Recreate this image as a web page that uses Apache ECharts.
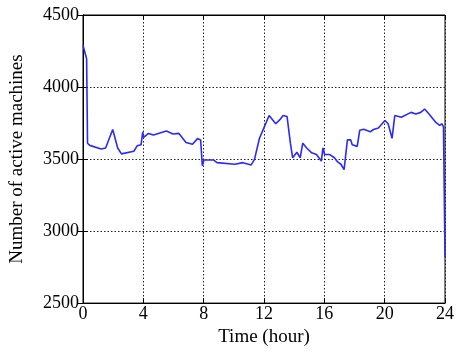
<!DOCTYPE html>
<html>
<head>
<meta charset="utf-8">
<script src="https://cdn.jsdelivr.net/npm/echarts@6/dist/echarts.min.js"></script>
<style>
  html, body { margin: 0; padding: 0; background: #fff; }
  #chart { width: 457px; height: 352px; }
</style>
</head>
<body>
<div id="chart"></div>
<script>
// Hour of day for each sample
const hours = [
  0.0, 0.24, 0.3, 0.45, 1.2, 1.5, 1.97, 2.3, 2.55, 3.37, 3.59, 3.85, 3.96,
  4.02, 4.34, 4.67, 5.53, 5.97, 6.36, 6.83, 7.26, 7.59, 7.8, 7.91, 8.02,
  8.67, 8.88, 10.07, 10.6, 11.15, 11.37, 11.7, 12.02, 12.34, 12.78, 13.1,
  13.27, 13.53, 13.75, 13.9, 14.18, 14.4, 14.57, 14.83, 14.93, 15.16, 15.48,
  15.8, 15.91, 16.02, 16.34, 16.67, 16.88, 17.1, 17.31, 17.53, 17.75, 17.85,
  18.18, 18.35, 18.61, 19.05, 19.26, 19.58, 20.02, 20.23, 20.49, 20.67,
  21.1, 21.75, 22.07, 22.39, 22.65, 22.94, 23.37, 23.65, 23.8, 23.9, 24.0
];
// Number of active machines at each sample
const machines = [
  4290, 4196, 3610, 3595, 3570, 3577, 3705, 3577, 3536, 3554, 3592, 3599, 3689,
  3650, 3678, 3667, 3694, 3674, 3678, 3615, 3603, 3642, 3633, 3453, 3493,
  3493, 3475, 3464, 3475, 3459, 3498, 3644, 3723, 3802, 3745, 3779,
  3802, 3795, 3610, 3509, 3547, 3509, 3610, 3577, 3588, 3543, 3532,
  3486, 3577, 3532, 3532, 3509, 3480, 3464, 3426, 3633, 3633, 3599,
  3588, 3700, 3707, 3689, 3705, 3716, 3768, 3745, 3644, 3802,
  3790, 3824, 3813, 3824, 3847, 3813, 3757, 3734, 3745, 3723, 2820
];
const xTicks = [0, 4, 8, 12, 16, 20, 24];
const yTicks = [2500, 3000, 3500, 4000, 4500];

const font = '"Liberation Serif", "DejaVu Serif", serif';
const gridLine = { show: true, lineStyle: { color: '#222', type: [1.5, 2], width: 1 } };
const tick = { show: true, inside: true, length: 5, lineStyle: { color: '#000' } };

const chart = echarts.init(document.getElementById('chart'));
chart.setOption({
  animation: false,
  backgroundColor: '#fff',
  grid: { left: 78, right: 9, top: 15, bottom: 41, show: true, borderColor: '#000', borderWidth: 1 },
  xAxis: [{
    type: 'value', min: xTicks[0], max: xTicks[xTicks.length - 1], interval: 4,
    name: 'Time (hour)', nameLocation: 'middle', nameGap: 21,
    nameTextStyle: { fontFamily: font, fontSize: 19, color: '#000' },
    axisLine: { show: true, lineStyle: { color: '#000' } },
    axisTick: tick, splitLine: gridLine,
    axisLabel: { fontFamily: font, fontSize: 18, color: '#000', margin: 2 }
  }, {
    type: 'value', position: 'top', min: 0, max: 24, interval: 4,
    axisLine: { show: true, lineStyle: { color: '#000' } },
    axisTick: tick, axisLabel: { show: false }, splitLine: { show: false }
  }],
  yAxis: [{
    type: 'value', min: yTicks[0], max: yTicks[yTicks.length - 1], interval: 500,
    name: 'Number of active machines', nameLocation: 'middle', nameGap: 56,
    nameTextStyle: { fontFamily: font, fontSize: 19, color: '#000' },
    axisLine: { show: true, lineStyle: { color: '#000' } },
    axisTick: tick, splitLine: gridLine,
    axisLabel: { fontFamily: font, fontSize: 18, color: '#000', margin: 4, formatter: v => String(v) }
  }, {
    type: 'value', position: 'right', min: 2500, max: 4500, interval: 500,
    axisLine: { show: true, lineStyle: { color: '#000' } },
    axisTick: tick, axisLabel: { show: false }, splitLine: { show: false }
  }],
  series: [{
    type: 'line',
    data: hours.map((h, i) => [h, machines[i]]),
    showSymbol: false,
    lineStyle: { color: '#2a2aff', width: 1.6 },
    z: 5
  }]
});
</script>
</body>
</html>
